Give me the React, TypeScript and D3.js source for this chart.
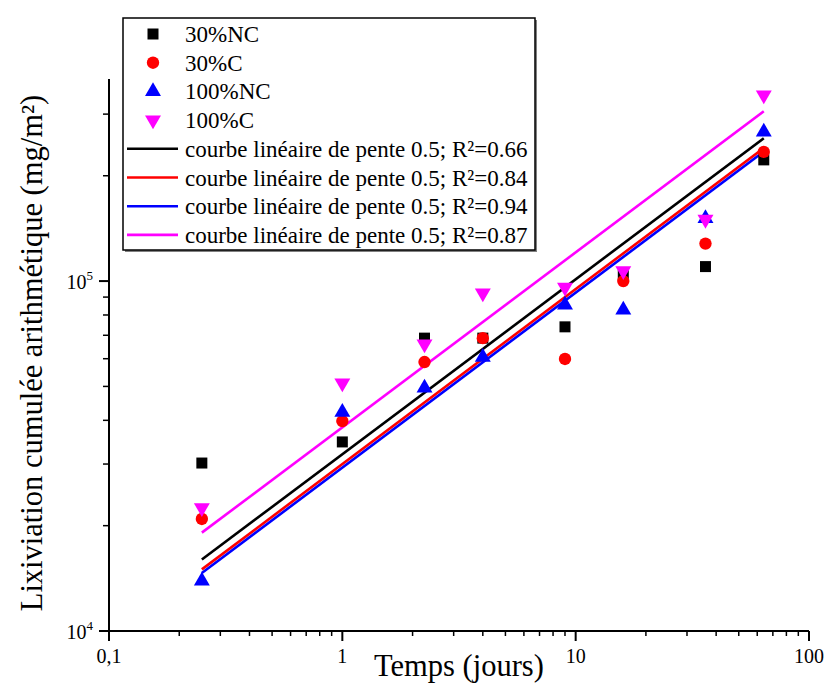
import React, { useEffect } from "react";
import * as d3 from "d3";

const days = [0.25, 1, 2.25, 4, 9, 16, 36, 64];
const nc30 = [30200, 34700, 68700, 68700, 74000, 104000, 110000, 222000];
const c30 = [20900, 39800, 58700, 68700, 59900, 100000, 128000, 234000];
const nc100 = [13900, 42200, 49500, 60600, 85500, 82700, 151000, 267000];
const c100 = [22500, 51100, 66100, 92400, 96000, 107000, 150000, 340000];

const seriesNames = ["30%NC", "30%C", "100%NC", "100%C"];
const seriesColors = ["#000000", "#ff0000", "#0000ff", "#ff00ff"];
const fitCoef = [32000, 30000, 29300, 38200];
const fitR2 = ["0.66", "0.84", "0.94", "0.87"];
const xTickLabels = ["0,1", "1", "10", "100"];
const yTickExps = ["4", "5"];

const W = 826;
const H = 688;
const FONT = "Liberation Serif, Times New Roman, Times, serif";
const ts = { fontFamily: FONT };

export default function App() {
  useEffect(() => {
    document.body.style.margin = "0";
  }, []);

  const x = d3.scaleLog().domain([0.1, 100]).range([109, 809]);
  const y = d3.scaleLog().domain([1e4, 3.78e5]).range([631, 79]);

  const allSeries = [nc30, c30, nc100, c100];
  const symbolTypes = [d3.symbolSquare, d3.symbolCircle, d3.symbolTriangle, d3.symbolTriangle];
  const symbolSizes = [121, 120, 110, 110];
  const symbolRot = [0, 0, 0, 180];
  const symPath = (i: number) => d3.symbol().type(symbolTypes[i]).size(symbolSizes[i])() as string;

  const xMajor = [0.1, 1, 10, 100];
  const xMinor: number[] = [];
  for (const dec of [0.1, 1, 10]) for (let k = 2; k <= 9; k++) xMinor.push(dec * k);
  const yMinor: number[] = [];
  for (const dec of [1e4, 1e5]) for (let k = 2; k <= 9; k++) if (dec * k <= 3.78e5) yMinor.push(dec * k);
  const yMajor = [1e4, 1e5];

  const legX = 123;
  const legY = 18;
  const legW = 412;
  const legH = 232;
  const rowY = (i: number) => 34 + i * 28.7;

  return (
    <svg width={W} height={H} style={{ display: "block", background: "#fff", fontFamily: FONT }}>
      {/* fit lines */}
      {fitCoef.map((a, i) => {
        const xs = [days[0], days[days.length - 1]];
        const d = d3
          .line<number>()
          .x((v) => x(v))
          .y((v) => y(a * Math.sqrt(v)))(xs) as string;
        return <path key={"fit" + i} d={d} stroke={seriesColors[i]} strokeWidth={2.6} fill="none" />;
      })}
      {/* points */}
      {allSeries.map((vals, si) =>
        vals.map((v, j) => (
          <path
            key={"p" + si + "-" + j}
            d={symPath(si)}
            fill={seriesColors[si]}
            transform={`translate(${x(days[j])},${y(v)}) rotate(${symbolRot[si]})`}
          />
        ))
      )}
      {/* x axis */}
      <line x1={109} x2={809} y1={631} y2={631} stroke="#000" strokeWidth={2} />
      {xMajor.map((t) => (
        <line key={"xM" + t} x1={x(t)} x2={x(t)} y1={631} y2={641} stroke="#000" strokeWidth={2} />
      ))}
      {xMinor.map((t) => (
        <line key={"xm" + t} x1={x(t)} x2={x(t)} y1={631} y2={636} stroke="#000" strokeWidth={1.5} />
      ))}
      {xMajor.map((t, i) => (
        <text key={"xl" + t} x={x(t)} y={663} fontSize={20} textAnchor="middle" style={ts}>
          {xTickLabels[i]}
        </text>
      ))}
      {/* y axis */}
      <line x1={109} x2={109} y1={79} y2={632} stroke="#000" strokeWidth={2} />
      {yMajor.map((t) => (
        <line key={"yM" + t} x1={99} x2={109} y1={y(t)} y2={y(t)} stroke="#000" strokeWidth={2} />
      ))}
      {yMinor.map((t) => (
        <line key={"ym" + t} x1={103} x2={109} y1={y(t)} y2={y(t)} stroke="#000" strokeWidth={1.5} />
      ))}
      {yMajor.map((t, i) => (
        <text key={"yl" + t} x={93} y={y(t) + 8} fontSize={20} textAnchor="end" style={ts}>
          10
          <tspan fontSize={13} dy={-9}>
            {yTickExps[i]}
          </tspan>
        </text>
      ))}
      {/* axis titles */}
      <text x={459} y={676} fontSize={30.5} textAnchor="middle" style={ts}>
        Temps (jours)
      </text>
      <text transform="translate(42,353) rotate(-90)" fontSize={30.5} textAnchor="middle" style={ts}>
        Lixiviation cumulée arithmétique (mg/m²)
      </text>
      {/* legend */}
      <rect x={legX + 2} y={legY + 2} width={legW} height={legH} fill="#808080" />
      <rect x={legX} y={legY} width={legW} height={legH} fill="#fff" stroke="#000" strokeWidth={1.5} />
      {seriesNames.map((n, i) => (
        <g key={"leg" + i}>
          <path d={symPath(i)} fill={seriesColors[i]} transform={`translate(153,${rowY(i)}) rotate(${symbolRot[i]})`} />
          <text x={185} y={rowY(i) + 8} fontSize={23} style={ts}>
            {n}
          </text>
        </g>
      ))}
      {fitR2.map((r, i) => (
        <g key={"legf" + i}>
          <line x1={127} x2={178} y1={rowY(i + 4)} y2={rowY(i + 4)} stroke={seriesColors[i]} strokeWidth={2.6} />
          <text x={185} y={rowY(i + 4) + 8} fontSize={23} style={ts}>
            {`courbe linéaire de pente 0.5; R²=${r}`}
          </text>
        </g>
      ))}
    </svg>
  );
}
